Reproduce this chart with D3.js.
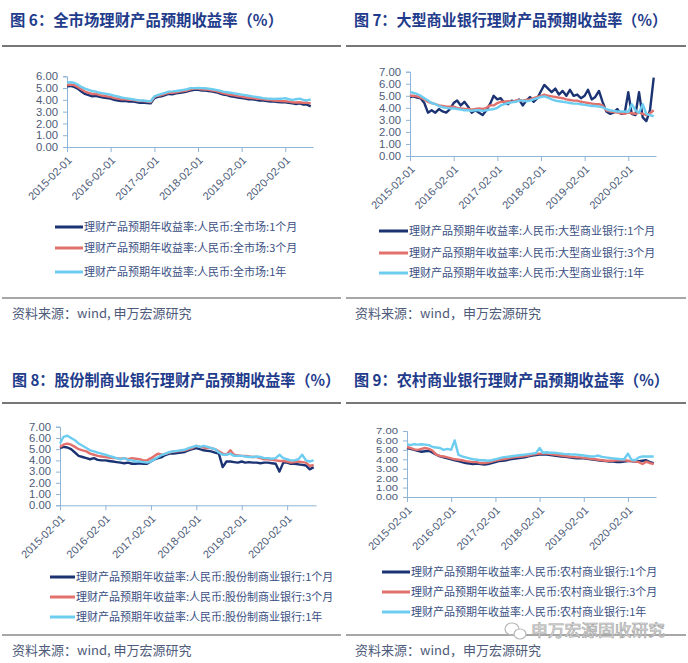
<!DOCTYPE html>
<html><head><meta charset="utf-8">
<script src="https://cdn.jsdelivr.net/npm/d3@7"></script>
<style>body{margin:0;background:#fff}svg{display:block}</style>
</head><body>
<script>
// ---------------- DATA ----------------
const startMonth = new Date(2015, 1, 1);
const endMonth = new Date(2020, 9, 1);
const months = d3.timeMonth.range(startMonth, endMonth); // 2015-02 .. 2020-09 (68)
const xTickLabels = ["2015-02-01","2016-02-01","2017-02-01","2018-02-01","2019-02-01","2020-02-01"];
const yTicks6 = [0,1,2,3,4,5,6];
const yTicks7 = [0,1,2,3,4,5,6,7];
const seriesColors = ["#1b3372", "#e2706c", "#6ccdf0"];
const titles = ["图 6：全市场理财产品预期收益率（%）","图 7：大型商业银行理财产品预期收益率（%）","图 8：股份制商业银行理财产品预期收益率（%）","图 9：农村商业银行理财产品预期收益率（%）"];
const sources = ["资料来源：wind, 申万宏源研究","资料来源：wind，申万宏源研究","资料来源：wind, 申万宏源研究","资料来源：wind，申万宏源研究"];
const legend6 = ["理财产品预期年收益率:人民币:全市场:1个月","理财产品预期年收益率:人民币:全市场:3个月","理财产品预期年收益率:人民币:全市场:1年"];
const legend7 = ["理财产品预期年收益率:人民币:大型商业银行:1个月","理财产品预期年收益率:人民币:大型商业银行:3个月","理财产品预期年收益率:人民币:大型商业银行:1年"];
const legend8 = ["理财产品预期年收益率:人民币:股份制商业银行:1个月","理财产品预期年收益率:人民币:股份制商业银行:3个月","理财产品预期年收益率:人民币:股份制商业银行:1年"];
const legend9 = ["理财产品预期年收益率:人民币:农村商业银行:1个月","理财产品预期年收益率:人民币:农村商业银行:3个月","理财产品预期年收益率:人民币:农村商业银行:1年"];

// 全市场
const all1M = [5.15,5.18,5.1,4.95,4.7,4.5,4.4,4.3,4.35,4.25,4.2,
 4.15,4.1,4.0,3.95,3.9,3.92,3.85,3.88,3.82,3.75,3.78,3.72,
 3.7,4.15,4.25,4.3,4.4,4.5,4.48,4.55,4.6,4.65,4.7,4.8,
 4.85,4.85,4.8,4.78,4.75,4.7,4.65,4.55,4.45,4.4,4.3,4.25,
 4.2,4.15,4.1,4.05,4.05,4.0,3.95,3.95,3.9,3.85,3.85,3.82,
 3.8,3.8,3.75,3.7,3.65,3.7,3.6,3.6,3.45];
const all3M = [5.25,5.3,5.25,5.1,4.9,4.7,4.6,4.5,4.5,4.4,4.35,
 4.3,4.25,4.15,4.1,4.05,4.05,4.0,4.0,3.95,3.9,3.9,3.85,
 3.82,4.25,4.35,4.4,4.5,4.6,4.6,4.65,4.7,4.75,4.8,4.9,
 4.95,4.95,4.9,4.88,4.85,4.8,4.75,4.65,4.55,4.5,4.42,4.38,
 4.32,4.28,4.22,4.18,4.15,4.1,4.08,4.05,4.0,3.98,3.95,3.92,
 3.9,3.88,3.85,3.8,3.78,3.8,3.75,3.75,3.7];
const all1Y = [5.45,5.5,5.45,5.3,5.1,4.95,4.85,4.75,4.7,4.6,4.55,
 4.5,4.45,4.35,4.3,4.2,4.15,4.1,4.05,4.0,3.95,3.95,3.9,
 3.88,4.3,4.4,4.5,4.6,4.7,4.72,4.75,4.8,4.85,4.9,5.0,
 5.0,5.02,5.0,4.98,4.95,4.9,4.85,4.78,4.7,4.65,4.6,4.55,
 4.5,4.45,4.4,4.35,4.3,4.25,4.2,4.15,4.12,4.1,4.08,4.1,
 4.1,4.15,4.05,4.0,4.05,4.1,4.0,3.95,4.05];
// 大型商业银行
const big1M = [4.9,4.95,4.85,4.8,4.4,3.6,3.8,3.6,3.9,3.7,3.6,
 3.9,4.4,4.6,4.2,4.5,4.1,3.6,3.8,3.6,3.4,3.8,4.3,
 5.0,4.7,4.8,4.4,4.3,4.6,4.5,4.7,4.2,4.6,4.9,4.5,
 4.8,5.4,5.9,5.6,5.3,5.6,5.1,5.4,5.0,5.5,5.0,5.1,
 4.8,5.0,5.5,4.7,4.9,5.4,4.5,3.7,3.5,3.6,3.9,3.5,
 3.5,5.3,3.5,3.4,5.3,3.2,2.9,3.8,6.5];
const big3M = [5.0,5.0,4.95,4.85,4.7,4.5,4.4,4.3,4.2,4.15,4.1,
 4.1,4.1,4.0,3.95,3.9,3.9,3.85,3.9,3.95,3.9,4.0,4.2,
 4.2,4.4,4.5,4.5,4.55,4.5,4.6,4.65,4.6,4.65,4.7,4.8,
 4.9,5.0,5.1,5.0,4.95,4.9,4.85,4.8,4.7,4.65,4.6,4.6,
 4.5,4.45,4.4,4.35,4.3,4.3,4.2,3.8,3.7,3.65,3.6,3.55,
 3.5,3.6,3.55,3.5,3.6,3.5,3.4,3.55,3.8];
const big1Y = [5.3,5.25,5.15,5.0,4.8,4.6,4.4,4.3,4.15,4.05,4.0,
 3.95,3.95,3.9,3.85,3.8,3.8,3.75,3.8,3.8,3.75,3.8,3.85,
 3.9,4.0,4.2,4.3,4.4,4.45,4.5,4.6,4.6,4.55,4.6,4.7,
 4.8,4.9,4.95,4.85,4.7,4.6,4.55,4.5,4.45,4.4,4.35,4.35,
 4.3,4.25,4.2,4.15,4.15,4.1,4.05,3.9,3.8,3.75,3.7,3.7,
 3.7,3.65,4.3,3.8,3.6,4.3,3.5,3.4,3.3];
// 股份制商业银行
const jsc1M = [5.1,5.2,5.15,5.0,4.7,4.4,4.3,4.2,4.1,4.2,4.05,
 4.0,4.0,3.95,3.9,3.85,3.8,3.75,3.8,3.7,3.7,3.75,3.7,
 3.7,3.9,4.1,4.2,4.3,4.5,4.6,4.6,4.65,4.7,4.75,4.9,
 5.0,5.1,5.0,4.9,4.85,4.8,4.7,4.6,3.4,3.9,3.9,3.85,
 3.8,3.9,3.8,3.85,3.8,3.8,3.75,3.8,3.8,3.75,3.7,3.0,
 3.8,3.8,3.7,3.7,3.65,3.6,3.55,3.2,3.4];
const jsc3M = [5.2,5.4,5.5,5.4,5.2,5.0,4.9,4.8,4.6,4.5,4.4,
 4.35,4.3,4.25,4.2,4.2,4.15,4.2,4.1,4.2,4.15,4.1,4.0,
 4.0,4.2,4.4,4.6,4.5,4.6,4.7,4.8,4.8,4.85,4.9,5.0,
 5.1,5.3,5.2,5.15,5.1,5.1,5.0,4.8,4.6,4.5,4.9,4.5,
 4.45,4.4,4.4,4.35,4.3,4.3,4.2,4.1,4.1,4.05,4.0,3.95,
 3.95,3.9,3.8,3.85,3.9,3.85,3.8,3.5,3.6];
const jsc1Y = [5.5,6.1,6.2,6.0,5.8,5.5,5.3,5.1,4.9,4.8,4.7,
 4.6,4.5,4.4,4.3,4.2,4.1,4.2,4.05,4.0,3.9,3.9,3.85,
 3.8,3.9,4.1,4.3,4.5,4.6,4.75,4.8,4.85,4.9,4.95,5.1,
 5.2,5.3,5.2,5.3,5.2,5.1,5.0,4.7,4.5,4.5,4.6,4.4,
 4.4,4.4,4.35,4.3,4.3,4.35,4.3,4.2,4.2,4.15,4.2,4.5,
 4.2,4.1,4.0,4.0,4.1,4.5,4.0,3.9,4.0];
// 农村商业银行
const rural1M = [5.2,5.1,5.0,4.9,4.8,4.85,4.9,4.7,4.5,4.3,4.2,
 4.1,4.0,3.9,3.8,3.7,3.6,3.55,3.5,3.55,3.5,3.45,3.5,
 3.6,3.7,3.8,3.85,3.9,4.0,4.05,4.1,4.15,4.2,4.3,4.4,
 4.45,4.5,4.5,4.5,4.45,4.4,4.35,4.3,4.25,4.2,4.15,4.1,
 4.1,4.1,4.05,4.0,3.95,3.9,3.85,3.8,3.75,3.75,3.7,3.7,
 3.75,3.8,3.8,3.75,3.8,3.85,3.9,3.7,3.6];
const rural3M = [5.3,5.2,5.05,5.0,5.1,5.2,5.1,4.9,4.5,4.35,4.3,
 4.2,4.1,4.0,3.95,3.9,3.8,3.75,3.7,3.7,3.6,3.6,3.65,
 3.75,3.85,3.95,4.0,4.05,4.15,4.2,4.25,4.3,4.35,4.4,4.5,
 4.55,4.6,4.6,4.6,4.55,4.5,4.45,4.4,4.35,4.3,4.25,4.2,
 4.2,4.15,4.1,4.05,4.0,3.95,3.9,3.85,3.85,3.85,3.9,3.9,
 3.9,3.85,3.8,3.75,3.7,3.5,3.75,3.6,3.5];
const rural1Y = [5.6,5.5,5.6,5.55,5.6,5.55,5.5,5.3,5.25,5.2,5.0,
 5.1,5.0,6.0,4.5,4.3,4.2,4.1,4.0,3.95,3.9,3.9,3.85,
 3.9,4.0,4.1,4.2,4.25,4.3,4.35,4.4,4.45,4.5,4.55,4.6,
 4.65,5.2,4.7,4.75,4.7,4.7,4.65,4.6,4.55,4.55,4.5,4.5,
 4.45,4.4,4.35,4.3,4.3,4.4,4.25,4.2,4.15,4.1,4.05,4.0,
 4.0,4.6,3.95,3.9,4.2,4.3,4.3,4.3,4.3];

// ---------------- LAYOUT ----------------
const panels = [
 {title:titles[0], tX:10, tY:26, tW:273, sepY:46, sepX:[2,341], x0:67, x1:313, yTop:76.3, yBot:147, yMax:6, yTicks:yTicks6, yFont:11.5,
  series:[all1M,all3M,all1Y], legend:legend6, legX:55, legLen:28, legY:[227,248,272], bSepY:298, srcX:12, srcY:318},
 {title:titles[1], tX:354, tY:26, tW:313, sepY:46, sepX:[346,686], x0:410, x1:656, yTop:71.7, yBot:156, yMax:7, yTicks:yTicks7, yFont:11.5,
  series:[big1M,big3M,big1Y], legend:legend7, legX:379, legLen:29, legY:[231,253,273], bSepY:298, srcX:355, srcY:318},
 {title:titles[2], tX:12, tY:386, tW:328, sepY:403, sepX:[2,341], x0:60, x1:316, yTop:426.7, yBot:505.3, yMax:7, yTicks:yTicks7, yFont:10.5,
  series:[jsc1M,jsc3M,jsc1Y], legend:legend8, legX:50, legLen:25, legY:[577,597,617], bSepY:635, srcX:12, srcY:655},
 {title:titles[3], tX:354, tY:386, tW:315, sepY:403, sepX:[346,686], x0:407, x1:656, yTop:431, yBot:497, yMax:7, yTicks:yTicks7, yFont:9,
  series:[rural1M,rural3M,rural1Y], legend:legend9, legX:382, legLen:28, legY:[572,592,612], bSepY:635, srcX:355, srcY:655}
];

const svg = d3.select("body").append("svg").attr("width",688).attr("height",663);
svg.append("rect").attr("width",688).attr("height",663).attr("fill","#fff");

const axisColor = "#8fb4d6";
const labelColor = "#4d5b78";
const latin = "'Liberation Sans', Arial, sans-serif";
const cjk = "'Noto Sans CJK SC', sans-serif";
const parse = d3.timeParse("%Y-%m-%d");

panels.forEach((p, pi) => {
  const g = svg.append("g");
  // title
  g.append("text").attr("x",p.tX).attr("y",p.tY).text(p.title)
   .attr("font-family",cjk).attr("font-weight","bold").attr("font-size",15.5)
   .attr("fill","#1f3c8c").attr("textLength",p.tW).attr("lengthAdjust","spacingAndGlyphs");
  g.append("line").attr("x1",p.sepX[0]).attr("x2",p.sepX[1]).attr("y1",p.sepY).attr("y2",p.sepY)
   .attr("stroke","#4a4a4a").attr("stroke-width",1.5);

  const x = d3.scaleTime().domain([parse("2015-02-01"), parse("2020-09-20")]).range([p.x0, p.x1]);
  const y = d3.scaleLinear().domain([0, p.yMax]).range([p.yBot, p.yTop]);

  // y axis
  const ya = g.append("g").attr("transform",`translate(${p.x0},0)`)
    .call(d3.axisLeft(y).tickValues(p.yTicks).tickFormat(d3.format(".2f")).tickSize(4).tickPadding(5));
  ya.select(".domain").attr("stroke",axisColor);
  ya.selectAll(".tick line").attr("stroke",axisColor);
  ya.selectAll(".tick text").attr("font-family",latin).attr("font-size",p.yFont).attr("fill",labelColor)
    .attr("textLength",22).attr("lengthAdjust","spacingAndGlyphs");

  // x axis
  const xticks = xTickLabels.map(parse);
  const xa = g.append("g").attr("transform",`translate(0,${p.yBot})`)
    .call(d3.axisBottom(x).tickValues(xticks).tickFormat(d3.timeFormat("%Y-%m-%d")).tickSize(5).tickSizeOuter(0));
  xa.select(".domain").attr("stroke",axisColor);
  xa.selectAll(".tick line").attr("stroke",axisColor);
  xa.selectAll(".tick text").attr("font-family",latin).attr("font-size",11).attr("fill",labelColor)
    .attr("text-anchor","end").attr("dy",0).attr("y",0)
    .attr("transform","translate(5,14) rotate(-45)");

  // lines
  const line = d3.line().x((d,i)=>x(months[i])).y(d=>y(d));
  p.series.forEach((s, si) => {
    g.append("path").datum(s).attr("d",line).attr("fill","none")
     .attr("stroke",seriesColors[si]).attr("stroke-width",2.4).attr("stroke-linejoin","round");
  });

  // legend
  p.legend.forEach((t, li) => {
    g.append("line").attr("x1",p.legX).attr("x2",p.legX+p.legLen).attr("y1",p.legY[li]).attr("y2",p.legY[li])
     .attr("stroke",seriesColors[li]).attr("stroke-width",3);
    g.append("text").attr("x",p.legX+p.legLen+1).attr("y",p.legY[li]+4).text(t)
     .attr("font-family",cjk).attr("font-size",11).attr("fill","#3b5183");
  });

  // source
  g.append("line").attr("x1",p.sepX[0]).attr("x2",p.sepX[1]).attr("y1",p.bSepY).attr("y2",p.bSepY)
   .attr("stroke","#8a8a8a").attr("stroke-width",1.5);
  g.append("text").attr("x",p.srcX).attr("y",p.srcY).text(sources[pi])
   .attr("font-family",cjk).attr("font-size",13).attr("fill","#4f5b7a");
});

// watermark
const wm = svg.append("g");
wm.append("ellipse").attr("cx",512).attr("cy",629).attr("rx",7).attr("ry",6).attr("fill","none").attr("stroke","#b8b8b8").attr("stroke-width",1.2);
wm.append("ellipse").attr("cx",520).attr("cy",634).attr("rx",6).attr("ry",5).attr("fill","#fff").attr("stroke","#b8b8b8").attr("stroke-width",1.2);
wm.append("text").attr("x",531).attr("y",636).text("申万宏源固收研究")
  .attr("font-family",cjk).attr("font-size",16).attr("fill","#f4f4f4").attr("stroke","#a8a8a8").attr("stroke-width",0.7)
  .attr("textLength",134).attr("lengthAdjust","spacingAndGlyphs");
</script>
</body></html>
